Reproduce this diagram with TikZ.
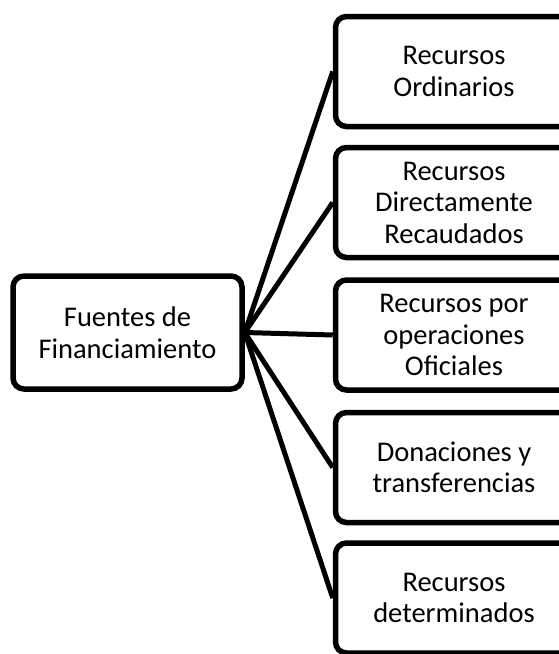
\documentclass[tikz,border=0pt]{standalone}
\usepackage{fontspec}
\setmainfont{Carlito}
\begin{document}
\begin{tikzpicture}[x=1pt,y=1pt,
  box/.style={draw=black,line width=5.5pt,rounded corners=11pt,fill=white,
    align=center,inner sep=0pt,font=\fontsize{28.5}{31.5}\selectfont},
  leftbox/.style={box,minimum width=229pt,minimum height=113pt},
  rightbox/.style={box,minimum width=237pt,minimum height=110pt},
  link/.style={line width=5pt}]
\useasboundingbox (0,0) rectangle (558,-654);
\node[leftbox] (L) at (127.5,-332.5) {Fuentes de\\Financiamiento};
\node[rightbox] (B1) at (454,-71.5) {Recursos\\Ordinarios};
\node[rightbox] (B2) at (454,-202.5) {Recursos\\Directamente\\Recaudados};
\node[rightbox] (B3) at (454,-335) {Recursos por\\operaciones\\Oficiales};
\node[rightbox] (B4) at (454,-467.5) {Donaciones y\\transferencias};
\node[rightbox] (B5) at (454,-598) {Recursos\\determinados};
\foreach \b in {B1,B2,B3,B4,B5}
  \draw[link] (L.east) -- (\b.west);
\end{tikzpicture}
\end{document}
